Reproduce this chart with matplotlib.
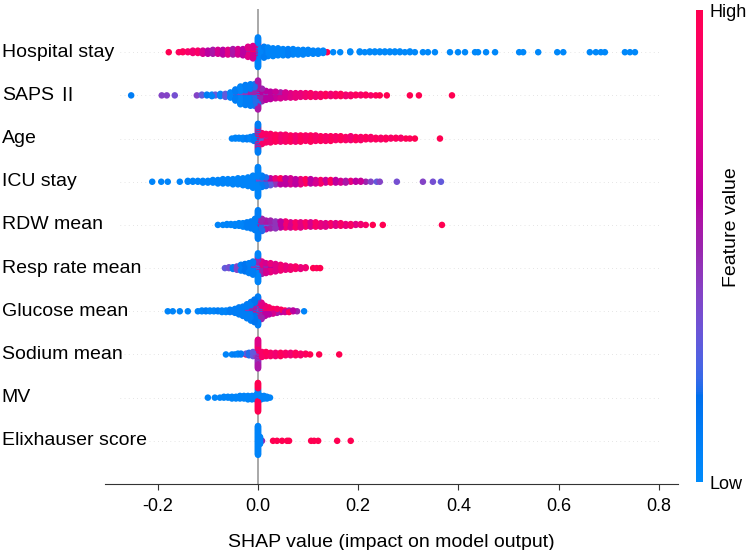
import numpy as np
import matplotlib
matplotlib.use("Agg")
import matplotlib.pyplot as plt
from matplotlib.colors import LinearSegmentedColormap
from matplotlib.cm import ScalarMappable

plt.rcParams['font.family'] = ['Liberation Sans', 'DejaVu Sans']
plt.rcParams['axes.unicode_minus'] = False

features = ["Hospital stay", "SAPS Ⅱ", "Age", "ICU stay", "RDW mean",
            "Resp rate mean", "Glucose mean", "Sodium mean", "MV", "Elixhauser score"]

# each entry: (SHAP value, number of samples, feature value 0=low .. 1=high)
hospital_stay = [
    (-0.178, 1, 1.0), (-0.158, 1, 0.95), (-0.150, 2, 0.95), (-0.140, 2, 0.9), (-0.130, 4, 0.85),
    (-0.120, 4, 0.9), (-0.110, 5, 0.7), (-0.100, 5, 0.6), (-0.090, 6, 0.55), (-0.080, 6, 0.7),
    (-0.070, 7, 0.6), (-0.060, 7, 0.75), (-0.050, 8, 0.55), (-0.040, 8, 0.7), (-0.030, 9, 0.6),
    (-0.020, 10, 0.75), (-0.020, 4, 0.5), (-0.010, 12, 0.7), (-0.010, 5, 0.9),
    (0.000, 25, 0.05), (0.000, 8, 0.5), (0.000, 6, 0.8), (0.006, 10, 0.05),
    (0.012, 12, 0.1), (0.012, 3, 0.5), (0.020, 12, 0.05), (0.030, 11, 0.05), (0.040, 10, 0.05),
    (0.050, 9, 0.05), (0.060, 9, 0.08), (0.070, 8, 0.05), (0.080, 7, 0.05), (0.090, 7, 0.05),
    (0.100, 6, 0.05), (0.110, 5, 0.05), (0.120, 5, 0.05), (0.130, 4, 0.05), (0.138, 1, 1.0),
    (0.150, 1, 0.02), (0.164, 1, 0.02), (0.184, 2, 0.02), (0.203, 2, 0.02), (0.213, 1, 0.02),
    (0.223, 2, 0.02), (0.233, 2, 0.02), (0.243, 2, 0.02), (0.253, 2, 0.02), (0.263, 2, 0.02),
    (0.273, 2, 0.02), (0.283, 2, 0.02), (0.293, 1, 0.02), (0.303, 2, 0.02), (0.313, 1, 0.02),
    (0.329, 1, 0.02), (0.339, 1, 0.02), (0.353, 1, 0.02), (0.383, 1, 0.02), (0.399, 1, 0.02),
    (0.413, 1, 0.02), (0.433, 1, 0.02), (0.439, 1, 0.02), (0.455, 1, 0.02), (0.473, 1, 0.02),
    (0.521, 1, 0.02), (0.529, 1, 0.02), (0.559, 1, 0.02), (0.597, 1, 0.02), (0.609, 1, 0.02),
    (0.662, 1, 0.02), (0.674, 1, 0.02), (0.684, 1, 0.02), (0.692, 1, 0.02), (0.732, 1, 0.02),
    (0.742, 1, 0.02), (0.752, 1, 0.02),
]

saps_ii = [
    (-0.253, 1, 0.1), (-0.192, 1, 0.4), (-0.182, 1, 0.4), (-0.166, 1, 0.35), (-0.122, 1, 0.4),
    (-0.112, 2, 0.3), (-0.102, 2, 0.1), (-0.092, 3, 0.05), (-0.085, 2, 0.3), (-0.075, 4, 0.05),
    (-0.065, 5, 0.3), (-0.055, 8, 0.05), (-0.045, 12, 0.1), (-0.045, 4, 0.4), (-0.035, 20, 0.05),
    (-0.035, 5, 0.4), (-0.025, 22, 0.1), (-0.025, 6, 0.45), (-0.015, 22, 0.1), (-0.015, 8, 0.5),
    (-0.007, 20, 0.2), (-0.007, 10, 0.5), (0.000, 12, 0.2), (0.000, 22, 0.55), (0.000, 6, 0.7),
    (0.008, 9, 0.5), (0.008, 7, 0.6), (0.008, 2, 0.3), (0.016, 8, 0.6), (0.016, 5, 0.45),
    (0.025, 7, 0.6), (0.025, 4, 0.7), (0.035, 6, 0.65), (0.035, 4, 0.5), (0.045, 5, 0.7),
    (0.045, 4, 0.55), (0.055, 8, 0.7), (0.065, 7, 0.75), (0.075, 7, 0.8), (0.085, 6, 0.8),
    (0.095, 6, 0.85), (0.105, 6, 0.9), (0.115, 5, 0.85), (0.125, 5, 0.9), (0.135, 4, 0.95),
    (0.145, 4, 0.85), (0.155, 4, 0.9), (0.165, 4, 0.95), (0.175, 3, 0.85), (0.185, 3, 0.9),
    (0.195, 2, 0.95), (0.205, 2, 0.9), (0.215, 2, 0.95), (0.225, 1, 0.9), (0.235, 1, 0.95),
    (0.243, 1, 1.0), (0.257, 1, 1.0), (0.303, 1, 1.0), (0.321, 1, 1.0), (0.387, 1, 1.0),
]

age = [
    (-0.052, 1, 0.05), (-0.045, 2, 0.05), (-0.038, 2, 0.05), (-0.030, 3, 0.05), (-0.022, 3, 0.1),
    (-0.015, 4, 0.05), (-0.008, 5, 0.1), (-0.008, 2, 0.4), (0.000, 18, 0.1), (0.000, 10, 0.5),
    (0.000, 10, 0.9), (0.008, 7, 0.3), (0.008, 8, 0.9), (0.016, 8, 0.9), (0.016, 4, 0.4),
    (0.025, 10, 0.9), (0.025, 2, 0.5), (0.035, 10, 0.95), (0.045, 9, 0.85), (0.045, 1, 0.4),
    (0.055, 10, 0.9), (0.065, 9, 0.95), (0.075, 9, 0.85), (0.085, 9, 0.95), (0.095, 8, 0.9),
    (0.105, 8, 0.95), (0.105, 1, 0.5), (0.115, 8, 0.9), (0.125, 7, 0.95), (0.135, 7, 0.9),
    (0.145, 6, 0.95), (0.145, 1, 0.5), (0.155, 6, 0.9), (0.165, 6, 0.95), (0.175, 5, 0.9),
    (0.185, 5, 0.85), (0.185, 1, 0.5), (0.195, 5, 0.95), (0.205, 5, 0.9), (0.215, 4, 0.95),
    (0.225, 4, 0.9), (0.235, 3, 0.95), (0.245, 3, 0.9), (0.255, 3, 0.95), (0.265, 2, 0.9),
    (0.275, 2, 0.95), (0.285, 2, 0.9), (0.295, 1, 1.0), (0.303, 1, 0.95), (0.313, 1, 1.0),
    (0.363, 1, 1.0),
]

icu_stay = [
    (-0.211, 1, 0.05), (-0.193, 1, 0.05), (-0.180, 1, 0.05), (-0.156, 1, 0.05), (-0.140, 2, 0.05),
    (-0.130, 2, 0.05), (-0.120, 2, 0.05), (-0.110, 3, 0.05), (-0.100, 3, 0.05), (-0.090, 4, 0.05),
    (-0.080, 5, 0.05), (-0.070, 6, 0.05), (-0.060, 6, 0.05), (-0.050, 7, 0.05), (-0.040, 8, 0.05),
    (-0.030, 9, 0.05), (-0.020, 11, 0.05), (-0.010, 14, 0.05), (-0.010, 1, 0.5), (0.000, 30, 0.05),
    (0.000, 5, 0.4), (0.008, 10, 0.1), (0.008, 4, 0.4), (0.016, 7, 0.2), (0.016, 4, 0.5),
    (0.025, 5, 0.3), (0.025, 4, 0.6), (0.035, 4, 0.45), (0.035, 4, 0.8), (0.045, 4, 0.6),
    (0.045, 4, 0.95), (0.055, 6, 0.6), (0.055, 2, 0.95), (0.065, 5, 0.7), (0.065, 3, 0.9),
    (0.075, 7, 0.6), (0.085, 5, 0.8), (0.085, 2, 0.5), (0.095, 5, 0.95), (0.095, 1, 0.6),
    (0.105, 6, 0.6), (0.115, 5, 0.7), (0.125, 4, 0.9), (0.125, 1, 0.5), (0.135, 4, 0.65),
    (0.145, 4, 0.95), (0.155, 4, 0.6), (0.165, 3, 0.7), (0.175, 3, 0.55), (0.185, 2, 0.8),
    (0.195, 2, 0.6), (0.205, 2, 0.65), (0.215, 1, 0.5), (0.225, 1, 0.4), (0.237, 1, 0.3),
    (0.243, 1, 0.4), (0.277, 1, 0.35), (0.329, 1, 0.4), (0.349, 1, 0.35), (0.365, 1, 0.3),
]

rdw_mean = [
    (-0.080, 1, 0.05), (-0.070, 1, 0.05), (-0.062, 2, 0.05), (-0.054, 2, 0.05), (-0.046, 3, 0.05),
    (-0.038, 4, 0.05), (-0.030, 5, 0.05), (-0.022, 7, 0.1), (-0.014, 9, 0.1), (-0.006, 12, 0.1),
    (-0.006, 2, 0.4), (0.000, 22, 0.1), (0.000, 8, 0.5), (0.000, 4, 0.7), (0.008, 8, 0.2),
    (0.008, 7, 0.5), (0.016, 5, 0.3), (0.016, 6, 0.55), (0.025, 4, 0.35), (0.025, 6, 0.5),
    (0.035, 8, 0.45), (0.035, 1, 0.2), (0.045, 8, 0.6), (0.055, 7, 0.85), (0.055, 1, 0.5),
    (0.065, 7, 0.7), (0.075, 7, 0.9), (0.085, 7, 0.75), (0.095, 6, 0.9), (0.105, 6, 0.7),
    (0.115, 6, 0.9), (0.125, 5, 0.8), (0.135, 5, 0.75), (0.145, 4, 0.9), (0.155, 4, 0.75),
    (0.165, 4, 0.9), (0.175, 3, 0.8), (0.185, 3, 0.9), (0.195, 2, 0.75), (0.205, 2, 0.85),
    (0.215, 1, 0.9), (0.229, 1, 1.0), (0.249, 1, 1.0), (0.367, 1, 1.0),
]

resp_rate_mean = [
    (-0.066, 1, 0.3), (-0.058, 2, 0.35), (-0.050, 3, 0.1), (-0.042, 5, 0.4), (-0.034, 6, 0.1),
    (-0.034, 2, 0.4), (-0.026, 8, 0.15), (-0.026, 2, 0.45), (-0.018, 10, 0.1), (-0.018, 3, 0.5),
    (-0.010, 12, 0.1), (-0.010, 5, 0.45), (0.000, 20, 0.05), (0.000, 12, 0.5), (0.000, 4, 0.3),
    (0.008, 7, 0.5), (0.008, 7, 0.75), (0.008, 2, 0.1), (0.016, 8, 0.7), (0.016, 5, 0.5),
    (0.025, 8, 0.8), (0.025, 4, 0.6), (0.035, 8, 0.75), (0.035, 2, 0.9), (0.045, 7, 0.85),
    (0.045, 1, 0.6), (0.055, 5, 0.8), (0.055, 1, 0.95), (0.065, 5, 0.85), (0.075, 4, 0.9),
    (0.085, 3, 0.8), (0.095, 2, 0.85), (0.110, 1, 1.0), (0.117, 1, 0.95), (0.124, 1, 1.0),
]

glucose_mean = [
    (-0.180, 1, 0.05), (-0.170, 1, 0.05), (-0.156, 1, 0.05), (-0.140, 1, 0.05), (-0.120, 1, 0.05),
    (-0.112, 2, 0.05), (-0.104, 2, 0.1), (-0.096, 2, 0.05), (-0.088, 2, 0.05), (-0.080, 2, 0.1),
    (-0.072, 3, 0.05), (-0.064, 3, 0.05), (-0.056, 4, 0.1), (-0.050, 1, 1.0), (-0.046, 5, 0.1),
    (-0.046, 1, 0.4), (-0.038, 8, 0.1), (-0.038, 2, 0.4), (-0.030, 10, 0.1), (-0.030, 3, 0.5),
    (-0.022, 14, 0.1), (-0.022, 5, 0.45), (-0.014, 17, 0.1), (-0.014, 6, 0.5), (-0.014, 2, 0.9),
    (-0.007, 18, 0.15), (-0.007, 8, 0.5), (-0.007, 4, 0.85), (0.000, 16, 0.1), (0.000, 12, 0.5),
    (0.000, 6, 0.9), (0.000, 4, 0.3), (0.007, 9, 0.5), (0.007, 9, 0.75), (0.007, 4, 0.2),
    (0.014, 6, 0.6), (0.014, 6, 0.85), (0.014, 2, 0.2), (0.022, 5, 0.6), (0.022, 5, 0.9),
    (0.030, 4, 0.7), (0.030, 3, 0.95), (0.038, 3, 0.55), (0.038, 3, 0.9), (0.046, 2, 0.6),
    (0.046, 2, 0.95), (0.054, 2, 0.65), (0.054, 1, 0.95), (0.062, 2, 0.95), (0.062, 1, 0.5),
    (0.070, 2, 0.6), (0.078, 1, 0.5), (0.092, 1, 0.05),
]

sodium_mean = [
    (-0.064, 1, 0.05), (-0.052, 1, 0.05), (-0.046, 1, 0.1), (-0.040, 2, 0.05), (-0.034, 2, 0.1),
    (-0.024, 1, 1.0), (-0.024, 1, 0.3), (-0.018, 3, 0.2), (-0.018, 1, 0.5), (-0.010, 4, 0.3),
    (-0.010, 2, 0.5), (-0.004, 3, 0.4), (-0.004, 2, 0.6), (0.000, 12, 0.55), (0.000, 12, 0.75),
    (0.000, 6, 0.4), (0.000, 6, 0.95), (0.008, 5, 0.9), (0.008, 2, 0.6), (0.016, 5, 0.95),
    (0.016, 1, 0.7), (0.025, 5, 0.9), (0.035, 5, 0.85), (0.045, 5, 0.95), (0.055, 4, 0.9),
    (0.065, 4, 0.85), (0.075, 4, 0.95), (0.085, 3, 0.9), (0.095, 2, 0.95), (0.104, 1, 1.0),
    (0.122, 1, 1.0), (0.162, 1, 1.0),
]

mv = [
    (-0.100, 1, 0.05), (-0.086, 1, 0.05), (-0.076, 1, 0.05), (-0.068, 2, 0.05), (-0.060, 2, 0.05),
    (-0.052, 3, 0.05), (-0.044, 3, 0.05), (-0.036, 4, 0.05), (-0.028, 4, 0.05), (-0.020, 5, 0.05),
    (-0.012, 5, 0.05), (-0.004, 6, 0.05), (0.000, 24, 1.0), (0.000, 10, 0.05), (0.006, 5, 0.05),
    (0.012, 4, 0.05), (0.018, 3, 0.05), (0.024, 1, 0.05),
]

elixhauser_score = [
    (0.000, 38, 0.05), (0.004, 10, 0.05), (0.008, 1, 0.5), (0.030, 1, 1.0), (0.038, 1, 1.0),
    (0.048, 1, 1.0), (0.058, 1, 1.0), (0.062, 1, 1.0), (0.106, 1, 1.0), (0.112, 1, 1.0),
    (0.120, 1, 1.0), (0.158, 1, 1.0), (0.185, 1, 1.0),
]

rows = [hospital_stay, saps_ii, age, icu_stay, rdw_mean,
        resp_rate_mean, glucose_mean, sodium_mean, mv, elixhauser_score]


def lch2rgb(l, c, h):
    a = c * np.cos(h)
    b = c * np.sin(h)
    fy = (l + 16) / 116
    fx = fy + a / 500
    fz = fy - b / 200
    def finv(t):
        return t ** 3 if t > 6 / 29 else 3 * (6 / 29) ** 2 * (t - 4 / 29)
    xyz = np.array([0.95047 * finv(fx), finv(fy), 1.08883 * finv(fz)])
    m = np.array([[3.2406, -1.5372, -0.4986],
                  [-0.9689, 1.8758, 0.0415],
                  [0.0557, -0.2040, 1.0570]])
    rgb = m @ xyz
    rgb = np.where(rgb <= 0.0031308, 12.92 * rgb, 1.055 * np.abs(rgb) ** (1 / 2.4) - 0.055)
    return np.clip(rgb, 0, 1)


# shap-like red_blue colormap (LCh interpolation)
blue_lch = [54., 70., 4.6588]
red_lch = [54., 90., 0.35470565 + 2 * np.pi]
nsteps = 100
l_vals = list(np.linspace(blue_lch[0], 40., nsteps // 2)) + list(np.linspace(40., red_lch[0], nsteps // 2))
c_vals = np.linspace(blue_lch[1], red_lch[1], nsteps)
h_vals = np.linspace(blue_lch[2], red_lch[2], nsteps)
cmap = LinearSegmentedColormap.from_list(
    "red_blue", [lch2rgb(l, c, h) for l, c, h in zip(l_vals, c_vals, h_vals)])


def expand(entries):
    # interleave the groups so colours mix inside each stack
    xs, cs = [], []
    most = max(n for _, n, _ in entries)
    for k in range(most):
        for x, n, c in entries:
            if k < n:
                xs.append(x)
                cs.append(c)
    return np.array(xs), np.array(cs)


def swarm(xs, row_height=0.4):
    layers = {}
    ys = np.zeros(len(xs))
    for i, x in enumerate(xs):
        layer = layers.get(x, 0)
        ys[i] = np.ceil(layer / 2) * ((layer % 2) * 2 - 1)
        layers[x] = layer + 1
    return ys * 0.9 * (row_height / np.max(ys + 1))


fig = plt.figure(figsize=(7.5, 5.5), dpi=100)
ax = fig.add_axes([0.14, 0.12, 0.764, 0.8636])

nfeat = len(features)
for i, (name, entries) in enumerate(zip(features, rows)):
    ypos = nfeat - 1 - i
    ax.axhline(ypos, xmin=0.026, xmax=0.97, color="#cccccc", lw=0.5, dashes=(1, 5), zorder=-1)
    xs, cs = expand(entries)
    ax.scatter(xs, ypos + swarm(xs), c=cs, cmap=cmap, vmin=0, vmax=1, s=22,
               linewidth=0, zorder=3)
    if name.endswith("Ⅱ"):
        # roman numeral drawn with a CJK font, like the original
        head = ax.text(-0.18, ypos, name[:-1].rstrip(), transform=ax.get_yaxis_transform(),
                       ha='left', va='center', fontsize=14, zorder=5,
                       bbox=dict(facecolor='white', edgecolor='none', pad=1))
        ax.annotate(name[-1], xy=(1, 0.5), xycoords=head, xytext=(2, 0),
                    textcoords='offset points', ha='left', va='center',
                    fontsize=14, family=['Noto Sans CJK SC'], zorder=5)
    else:
        ax.text(-0.18, ypos, name, transform=ax.get_yaxis_transform(), ha='left', va='center',
                fontsize=14, color='black', zorder=5,
                bbox=dict(facecolor='white', edgecolor='none', pad=1))

ax.axvline(0, color="#999999", lw=1.2, zorder=-1)
ax.set_xlim(-0.3052, 0.8379)
ax.set_ylim(-1, nfeat)
ax.set_yticks([])
ax.set_xticks([-0.2, 0.0, 0.2, 0.4, 0.6, 0.8])
ax.set_xticklabels(["-0.2", "0.0", "0.2", "0.4", "0.6", "0.8"])
for side in ['top', 'right', 'left']:
    ax.spines[side].set_visible(False)
ax.spines['bottom'].set_color('#333333')
ax.tick_params(axis='x', labelsize=13, length=4, color='#333333', pad=6)
ax.set_xlabel("SHAP value (impact on model output)", fontsize=14, labelpad=14)

cax = fig.add_axes([0.928, 0.1236, 0.0093, 0.8582])
cb = fig.colorbar(ScalarMappable(cmap=cmap), cax=cax, ticks=[0, 1])
cb.set_ticklabels(["Low", "High"])
cb.outline.set_visible(False)
cax.tick_params(labelsize=13, length=0, pad=5)
fig.text(731 / 750, 1 - 227 / 550, "Feature value", rotation=90, ha='center', va='center',
         fontsize=14)

fig.savefig("out.png", dpi=100)
